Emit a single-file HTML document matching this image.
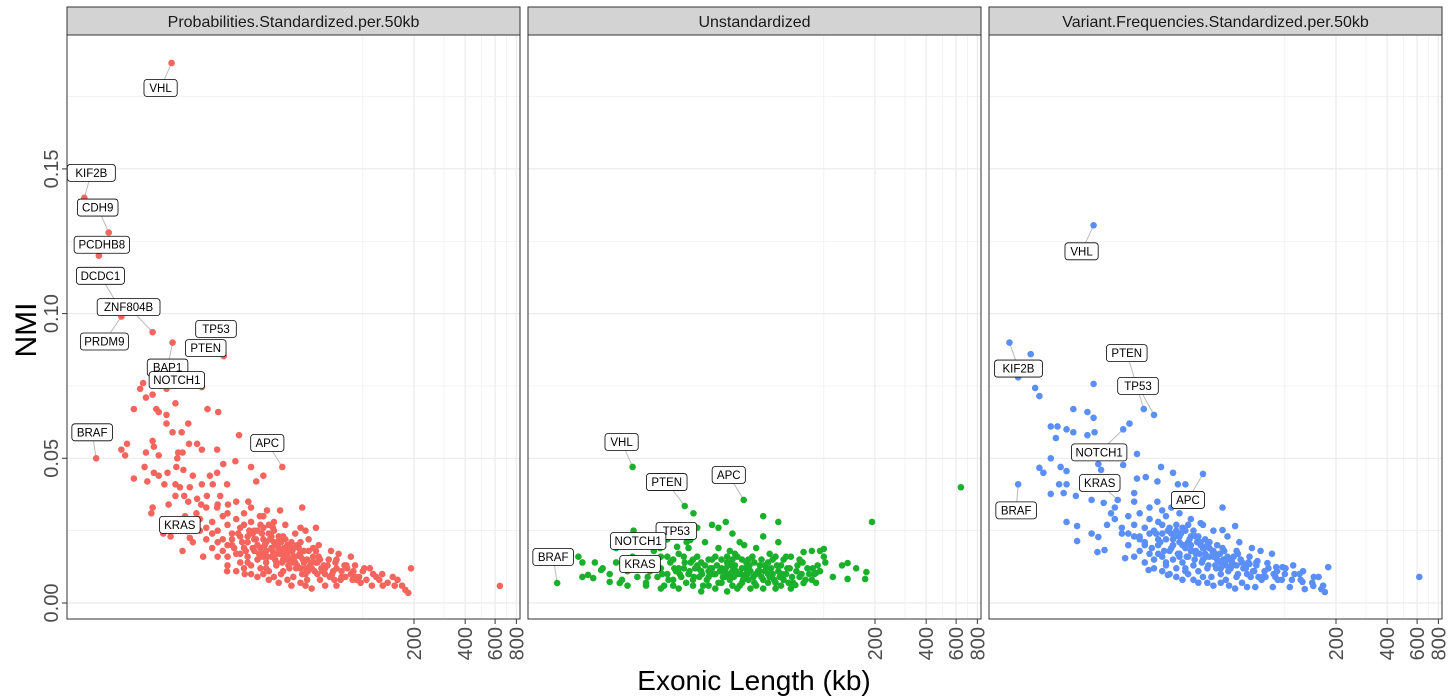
<!DOCTYPE html>
<html><head><meta charset="utf-8"><style>
body{margin:0;background:#fff;}
svg{display:block;font-family:"Liberation Sans",sans-serif;}
</style></head><body>
<svg id="chart" width="1450" height="700" xmlns="http://www.w3.org/2000/svg"></svg>
<script>
const panelTitles = ["Probabilities.Standardized.per.50kb","Unstandardized","Variant.Frequencies.Standardized.per.50kb"];
const panelColors = ["#F5655D","#1BB02B","#5A8EF8"];
const xTicks = [200,400,600,800];
const xMinor = [100,300,500,700];
const yTicks = [0,0.05,0.10,0.15];
const yTickLabels = ["0.00","0.05","0.10","0.15"];
const yMinor = [0.025,0.075,0.125,0.175];

const probPoints = [
[7.5,.1866],[2.3,.140],[3.2,.128],[2.8,.120],[3.7,.102],[5.8,.0936],[3.8,.099],[17,.0964],[15.2,.0853],[7.6,.090],[11.3,.0746],[2.7,.050],[33.6,.047],[9.6,.0225],
[5.1,.076],[4.9,.074],[5.3,.071],[5.8,.072],[7.0,.074],[7.9,.069],[4.5,.067],[6.1,.067],[6.3,.066],[7.0,.065],[12.2,.067],[14.1,.066],[7.0,.062],[9.4,.062],[7.6,.059],[8.6,.059],[18.7,.058],
[3.8,.053],[4.1,.055],[4.0,.051],[5.8,.056],[5.9,.054],[5.3,.052],[6.3,.051],[8.2,.052],[8.7,.052],[9.5,.055],[10.6,.055],[11.3,.053],[13.9,.053],[8.1,.050],[8.0,.047],[15.1,.048],[17.8,.049],[22,.047],
[5.2,.047],[4.5,.043],[5.4,.042],[5.9,.045],[6.3,.044],[7.1,.045],[6.8,.041],[8.8,.046],[10,.044],[12.6,.044],[13.9,.045],[7.9,.041],[8.4,.040],[9.6,.040],[11.3,.041],[13.1,.041],[15.9,.041],[23.6,.042],[26,.044],
[7.9,.037],[8.9,.037],[10.6,.036],[12.1,.037],[14.5,.037],[5.8,.033],[5.7,.031],[7.2,.034],[9.4,.035],[11.2,.034],[13.9,.033],[16.1,.034],[21.2,.035],[27.3,.032],[32.6,.032],[44,.033],
[6.7,.024],[7.4,.023],[8.7,.018],[10,.021],[11.5,.016],[15.9,.011],[20.2,.010],[24.8,.030],[29.6,.026],[43,.026],[46,.025],[53,.026],[60,.006],[70,.006],[80,.013],[90,.013],[97,.007],[113,.006],[131,.006],[154,.006],[178,.0045],[185,.0035],[192,.012],
[79,.009],[87,.008],[70,.015],[51,.019],[54,.014],[46,.010],[39,.014],[31,.014],[39,.019],[43,.021],[33,.018],[26,.016],[640,.0059],
[13,.028],[14,.025],[15,.030],[16,.027],[17,.024],[18,.029],[19,.026],[20,.031],[21,.023],[22,.028],[23,.025],[24,.020],[25,.027],[26,.022],[27,.018],[28,.024],[30,.021],[32,.019],[34,.023],[36,.017],[38,.021],[40,.016],[42,.019],[45,.014],[48,.018],[50,.012],[55,.016],[58,.011],[62,.013],[66,.010],
[12,.022],[13,.019],[14,.021],[15,.018],[16,.016],[17,.020],[18,.017],[19,.014],[20,.019],[21,.016],[22,.013],[23,.018],[24,.015],[25,.012],[26,.017],[27,.014],[28,.011],[29,.016],[31,.013],[33,.010],[35,.015],[37,.012],[39,.009],[41,.013],[44,.010],[47,.008],[52,.011],[56,.008],[60,.010],[68,.008],[75,.011],[85,.010],[95,.009],[105,.008],[120,.009],[140,.007],[160,.008],
[16,.013],[18,.011],[20,.012],[22,.010],[24,.009],[26,.010],[28,.008],[30,.009],[32,.007],[34,.011],[36,.008],[38,.006],[43,.007],[46,.006],[50,.005],
[17,.022],[19,.023],[21,.021],[23,.022],[25,.019],[27,.021],[29,.019],[31,.020],[33,.017],[35,.018],[37,.015],[40,.014],[43,.016],[46,.012],[49,.013],[53,.014],[57,.012],[63,.015],[70,.012],[78,.013],[88,.011],[100,.011],
[14,.034],[18,.035],[22,.033],[26,.030],[30,.028],[35,.027],[40,.024],[48,.022],[55,.020],[65,.018],[72,.017],[85,.016],[110,.012],[130,.010],
[18.5,.024],[19.5,.021],[20.5,.018],[21.5,.025],[22.5,.019],[23.5,.022],[24.5,.017],[25.5,.024],[26.5,.020],[27.5,.016],[28.5,.022],[29.5,.018],[30.5,.015],[31.5,.021],[32.5,.017],[33.5,.014],[34.5,.019],[35.5,.016],[36.5,.013],[38.5,.018],[40.5,.012],[42.5,.017],[44.5,.015],[47.5,.011],[51,.016],[54,.010],[59,.013],[64,.009],[69,.014],[74,.008],[81,.012],[92,.008],[102,.012],[115,.010],[125,.008],[150,.009],[170,.006],
[17.5,.019],[19,.017],[20,.027],[21,.014],[22.5,.024],[24,.025],[25,.016],[26,.026],[27,.012],[28,.027],[29,.023],[30,.025],[31,.017],[32,.023],[33,.021],[34,.015],[35,.022],[36,.020],[37,.019],[39,.016],[41,.020],[43,.012],[45,.018],[47,.015],[50,.014],[53,.018],[56,.015],[60,.012],[67,.011],[75,.009],[90,.009],
[15,.022],[16,.020],[14,.016],[13,.024],[12,.026],[11,.029],[10.5,.031],[9,.030],[10,.027],[11,.025],[12,.033],[16,.031]
];
const unstdPoints = [
[2.7,.0069],[7.5,.047],[15.2,.0335],[17.1,.031],[33.8,.0356],[44,.030],[54,.028],[22,.027],[24,.026],[26.5,.028],[18,.026],[7.6,.025],[192,.028],[640,.040],
[44,.023],[29,.024],[32,.021],[54,.021],[13.7,.0194],[15.6,.021],[16.4,.0218],[10.9,.019],[9.5,.0114],
[3.8,.009],[4.1,.0097],[4.4,.0086],[3.6,.016],[3.8,.014],[4.5,.014],[4.9,.0114],[5.5,.0073],[6.3,.0069],
[113,.009],[138,.0083],[175,.0083],[178,.0107],[155,.012],[128,.013],[138,.0138],[100,.016],[100,.0187],[95,.018],[85,.018],[76,.0176],[102,.014],[90,.0104],[76,.0069],[68,.0062],[85,.008],
[5,.012],[5.5,.010],[6,.014],[6.5,.008],[7,.011],[7.5,.016],[8,.009],[8.5,.013],[9,.007],[9.5,.011],[10,.015],[10.5,.009],[11,.012],[11.5,.006],[12,.010],[12.5,.014],[13,.008],[13.5,.011],[14,.017],[14.5,.009],[15,.012],[15.5,.007],[16,.010],[16.5,.014],[17,.008],[17.5,.012],[18,.016],[18.5,.009],[19,.011],[19.5,.006],[20,.013],[21,.009],[22,.015],[23,.010],[24,.007],[25,.012],[26,.009],[27,.014],[28,.008],[29,.011],[30,.017],[31,.010],[32,.006],[33,.012],[34,.009],[35,.014],[36,.008],[37,.011],[38,.016],[39,.007],[40,.010],[42,.013],[44,.008],[46,.012],[48,.009],[50,.015],[52,.007],[54,.011],[56,.013],[58,.008],[60,.010],[63,.012],[66,.007],[69,.011],[72,.009],[75,.014],[78,.008],[82,.010],[86,.012],[90,.007],[95,.011],
[6,.019],[8,.020],[10,.018],[12,.022],[16,.019],[20,.021],[24,.019],[28,.018],[34,.020],[40,.019],[48,.017],[60,.016],[7,.006],[11,.005],[14,.005],[19,.004],[23,.005],[27,.004],[31,.005],[37,.005],[44,.005],[52,.005],[64,.005],
[12,.016],[18,.013],[22,.012],[26,.011],[30,.013],[36,.012],[42,.011],[50,.010],[14,.012],[21,.011],[28,.010],[35,.010],[45,.011],[55,.009],
[8.2,.012],[9.2,.009],[10.2,.013],[11.2,.010],[12.2,.008],[13.2,.012],[14.2,.010],[15.2,.014],[16.2,.011],[17.2,.009],[18.2,.012],[19.2,.010],[20.5,.008],[21.5,.012],[22.5,.010],[23.5,.013],[24.5,.011],[25.5,.009],[26.5,.012],[27.5,.010],[28.5,.013],[29.5,.009],[30.5,.011],[32.5,.010],[33.5,.008],[34.5,.012],[35.5,.010],[36.5,.013],[38.5,.009],[41,.011],[43,.009],[45,.013],[47,.010],[49,.012],[51,.008],[53,.013],[57,.010],[61,.012],[65,.009],[70,.013],[74,.010],[80,.012],[88,.010],[92,.013],
[9,.015],[11,.016],[13,.015],[15,.016],[17,.015],[19,.014],[21,.015],[23,.016],[25,.015],[27,.016],[29,.015],[31,.016],[33,.015],[36,.015],[39,.014],[43,.015],[47,.014],[52,.016],[58,.015],[64,.016],[72,.015],
[9,.006],[13,.006],[17,.006],[21,.006],[25,.007],[29,.006],[33,.007],[40,.006],[47,.007],[56,.006],[62,.007]
];
const varPoints = [
[2.4,.090],[3.2,.086],[2.7,.078],[3.4,.0743],[3.6,.0715],[7.5,.0757],[7.5,.1305],[14.8,.067],[17,.065],[5.7,.067],[6.9,.066],[7.5,.064],
[4.2,.061],[4.6,.061],[5.2,.060],[5.7,.059],[4.5,.057],[6.9,.058],[7.6,.059],[11.2,.060],[12.2,.062],[4.2,.050],[13.5,.0515],[3.6,.0467],[3.8,.045],[4.8,.047],[5.2,.0456],[8.0,.048],[8.3,.046],[11.2,.0477],[18.7,.047],[22,.045],[33,.0446],
[13.5,.043],[15.2,.0435],[17.8,.042],[4.7,.041],[5.2,.041],[23.5,.041],[26,.041],[2.7,.041],[4.2,.0377],[5.0,.038],[5.9,.037],[7.3,.0356],[8.6,.0346],[13,.038],[17.8,.035],[21.5,.033],[43,.033],[10.4,.0356],
[5.2,.028],[6.0,.0266],[6.0,.0214],[7.3,.024],[8.0,.0228],[32,.0276],[43,.0252],[51,.0266],[7.9,.0176],[8.7,.0183],[11.5,.0155],[15.8,.0114],[20.5,.0097],
[62,.0135],[69,.0145],[79,.0138],[89,.0124],[97,.0124],[60,.0055],[67,.0055],[77,.009],[85,.0055],[107,.0055],[127,.0073],[131,.0048],[147,.0059],[164,.0048],[172,.0038],[180,.0124],[618,.009],
[12,.030],[13,.027],[14,.031],[15,.026],[16,.029],[17,.025],[18,.028],[19,.024],[20,.030],[21,.026],[22,.022],[23,.027],[24,.023],[25,.020],[26,.025],[27,.021],[28,.018],[30,.023],[32,.020],[34,.017],[36,.021],[38,.018],[40,.015],[43,.019],[46,.016],[49,.013],[53,.017],[57,.012],[61,.014],[65,.011],
[11,.024],[12,.020],[13,.023],[14,.018],[15,.021],[16,.017],[17,.015],[18,.020],[19,.016],[20,.013],[21,.018],[22,.015],[23,.012],[24,.017],[25,.014],[26,.011],[27,.016],[29,.013],[31,.011],[33,.015],[35,.012],[37,.009],[39,.013],[42,.010],[45,.008],[48,.012],[52,.009],[56,.007],[60,.010],[70,.009],[76,.011],[86,.010],[96,.008],[110,.008],[122,.010],[145,.007],[158,.009],
[15,.014],[17,.012],[19,.011],[21,.010],[23,.009],[25,.008],[27,.010],[29,.008],[31,.007],[33,.009],[35,.007],[38,.006],[42,.007],[47,.006],[51,.005],
[14,.023],[16,.024],[18,.022],[20,.022],[22,.020],[24,.021],[26,.019],[28,.020],[30,.018],[33,.019],[36,.016],[39,.017],[42,.014],[45,.013],[48,.015],[52,.013],[56,.014],[62,.016],[68,.013],[80,.012],[90,.011],[100,.010],
[13,.035],[16,.033],[19,.032],[24,.031],[28,.029],[33,.027],[38,.025],[46,.023],[54,.021],[64,.019],[72,.018],[84,.017],[112,.013],[128,.011],
[17.5,.024],[18.5,.021],[19.5,.018],[20.5,.025],[21.5,.019],[22.5,.023],[23.5,.017],[24.5,.024],[25.5,.020],[26.5,.016],[27.5,.022],[28.5,.018],[29.5,.015],[30.5,.021],[31.5,.017],[32.5,.014],[33.5,.019],[34.5,.016],[35.5,.013],[37.5,.018],[39.5,.012],[41.5,.017],[43.5,.015],[46.5,.011],[50,.016],[53,.010],[58,.013],[63,.009],[68,.014],[73,.008],[80,.012],[91,.008],[101,.012],[114,.010],[124,.008],[148,.009],[168,.006],
[16.5,.019],[18,.017],[19,.027],[20,.014],[21.5,.024],[23,.025],[24,.016],[25,.026],[26,.012],[27,.027],[28,.023],[29,.025],[30,.017],[31,.023],[32,.021],[33,.015],[34,.022],[35,.020],[36,.019],[38,.016],[40,.020],[42,.012],[44,.018],[46,.015],[49,.014],[52,.018],[55,.015],[59,.012],[66,.011],[74,.009],[88,.009],
[14,.022],[15,.020],[13,.016],[12,.024],[11,.026],[10,.029],[9.5,.031],[9,.027],[10,.033]
];
const panelPoints = [probPoints, unstdPoints, varPoints];

const probLabels = ["VHL","KIF2B","CDH9","PCDHB8","DCDC1","ZNF804B","PRDM9","TP53","PTEN","BAP1","NOTCH1","BRAF","APC","KRAS"];
const probLabelPoints = [[7.5,.1866],[2.3,.140],[3.2,.128],[2.8,.120],[3.7,.102],[5.8,.0936],[3.8,.099],[17,.0964],[15.2,.0853],[7.6,.090],[11.3,.0746],[2.7,.050],[33.6,.047],[9.6,.0225]];
const unstdLabels = ["VHL","PTEN","APC","TP53","NOTCH1","KRAS","BRAF"];
const unstdLabelPoints = [[7.5,.047],[15.2,.0335],[33.8,.0356],[16.4,.0218],[10.9,.019],[9.5,.0114],[2.7,.0069]];
const varLabels = ["VHL","KIF2B","PTEN","TP53","NOTCH1","KRAS","BRAF","APC"];
const varLabelPoints = [[7.5,.1305],[2.4,.090],[14.8,.067],[17,.065],[11.2,.060],[10.4,.0356],[2.7,.041],[33,.0446]];
// label box offsets (layout, px)
const probOffsets = [[-11,25],[7,-25],[-11,-25],[3,-11],[-19,-32],[-24,-25],[-17,25],[-16,5],[-18,-8],[-5,25],[-25,-7],[-4,-26],[-15,-24],[-10,-13]];
const unstdOffsets = [[-11,-25],[-18,-24],[-15,-25],[-14,-9],[-22,-7],[-10,-6],[-4,-26]];
const varOffsets = [[-12,26],[9,26],[-17,-56],[-16,-29],[-24,23],[-18,-17],[-2,26],[-15,26]];
const panelLabels = [[probLabels,probLabelPoints,probOffsets],[unstdLabels,unstdLabelPoints,unstdOffsets],[varLabels,varLabelPoints,varOffsets]];

const NS = "http://www.w3.org/2000/svg";
const svg = document.getElementById("chart");
function mk(tag, attrs, parent){const e=document.createElementNS(NS,tag);for(const k in attrs)e.setAttribute(k,attrs[k]);(parent||svg).appendChild(e);return e;}

const panelLefts = [67,528,989];
const panelW = 453, panelTop = 35, panelBottom = 619;
function xScale(p, kb){return panelLefts[p] + 347 + 170*(Math.log10(kb) - Math.log10(200));}
function yScale(v){return 603 - v*2894;}

for(let p=0;p<3;p++){
  const L = panelLefts[p];
  const g = mk("g",{});
  
  
  mk("rect",{x:L,y:panelTop,width:panelW,height:panelBottom-panelTop,fill:"#fff"},g);
  yMinor.forEach(v=>mk("line",{x1:L,x2:L+panelW,y1:yScale(v),y2:yScale(v),stroke:"#ebebeb","stroke-width":0.6},g));
  xMinor.forEach(v=>mk("line",{x1:xScale(p,v),x2:xScale(p,v),y1:panelTop,y2:panelBottom,stroke:"#ebebeb","stroke-width":0.6},g));
  yTicks.forEach(v=>mk("line",{x1:L,x2:L+panelW,y1:yScale(v),y2:yScale(v),stroke:"#ebebeb","stroke-width":1.2},g));
  xTicks.forEach(v=>mk("line",{x1:xScale(p,v),x2:xScale(p,v),y1:panelTop,y2:panelBottom,stroke:"#ebebeb","stroke-width":1.2},g));
  const [names, pts, offs] = panelLabels[p];
  names.forEach((n,i)=>{
    const px=xScale(p,pts[i][0]), py=yScale(pts[i][1]);
    const ln = mk("line",{x1:px,y1:py,x2:px+offs[i][0],y2:py+offs[i][1],stroke:"#bbb","stroke-width":1},g);
    
    
  });
  panelPoints[p].forEach((d,i)=>{
    const c = mk("circle",{cx:xScale(p,d[0]),cy:yScale(d[1]),r:3.3,fill:panelColors[p]},g);
    
    
  });
  names.forEach((n,i)=>{
    const cx=xScale(p,pts[i][0])+offs[i][0], cy=yScale(pts[i][1])+offs[i][1];
    const w = n.length*7.4+11;
    const lg = mk("g",{},g);
    
    
    mk("rect",{x:cx-w/2,y:cy-8.5,width:w,height:17,rx:3,fill:"#fff",stroke:"#000","stroke-width":0.8},lg);
    const t = mk("text",{x:cx,y:cy+4,"text-anchor":"middle","font-size":11.5,fill:"#000"},lg);
    t.textContent = n;
  });
  mk("rect",{x:L,y:panelTop,width:panelW,height:panelBottom-panelTop,fill:"none",stroke:"#333","stroke-width":1},g);
  const s = mk("g",{});
  
  
  mk("rect",{x:L,y:7,width:panelW,height:28,fill:"#d3d3d3",stroke:"#333","stroke-width":1},s);
  const st = mk("text",{x:L+panelW/2,y:27,"text-anchor":"middle","font-size":16,fill:"#1a1a1a"},s);
  st.textContent = panelTitles[p];
  xTicks.forEach(v=>{
    const x=xScale(p,v);
    mk("line",{x1:x,x2:x,y1:panelBottom,y2:panelBottom+5,stroke:"#333","stroke-width":1});
    const t = mk("text",{x:0,y:0,"text-anchor":"end","font-size":20,fill:"#4d4d4d",transform:`translate(${x+7},${panelBottom+8}) rotate(-90)`});
    
    
    t.textContent = v;
  });
}
yTicks.forEach((v,i)=>{
  const y=yScale(v);
  mk("line",{x1:62,x2:67,y1:y,y2:y,stroke:"#333","stroke-width":1});
  const t = mk("text",{x:0,y:0,"text-anchor":"middle","font-size":20,fill:"#4d4d4d",transform:`translate(58,${y}) rotate(-90)`});
  
  
  t.textContent = yTickLabels[i];
});
const yt = mk("text",{x:0,y:0,"text-anchor":"middle","font-size":30,fill:"#000",transform:"translate(36,330) rotate(-90)"});


yt.textContent = "NMI";
const xt = mk("text",{x:754,y:690,"text-anchor":"middle","font-size":28,fill:"#000"});


xt.textContent = "Exonic Length (kb)";
</script>
</body></html>
